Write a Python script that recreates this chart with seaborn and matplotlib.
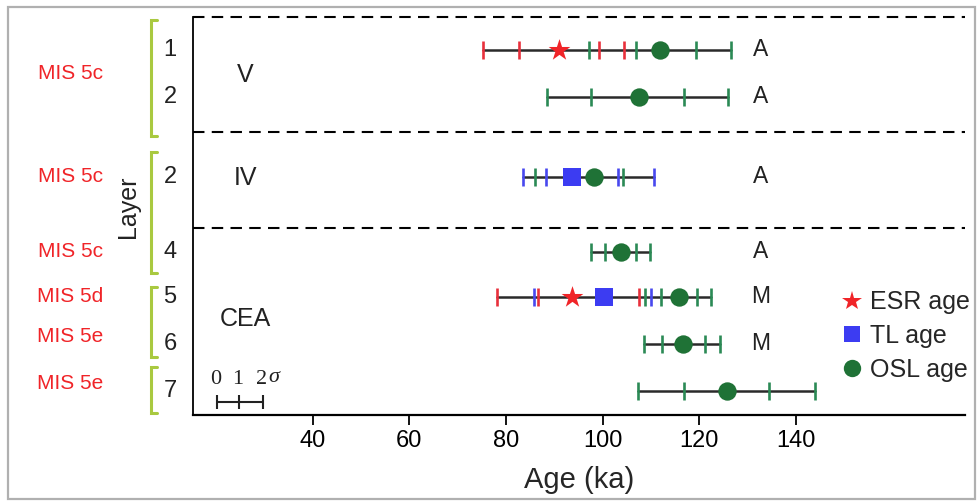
import numpy as np
import pandas as pd
import matplotlib.pyplot as plt
import seaborn as sns
from matplotlib.lines import Line2D
from matplotlib.patches import Rectangle
import matplotlib.transforms as mtransforms

# =============================================================================
# DATA (ages in ka)
# =============================================================================
layer_labels = ['1', '2', '2', '4', '5', '6', '7']
mis_labels = ['MIS 5c', 'MIS 5c', 'MIS 5c', 'MIS 5d', 'MIS 5e', 'MIS 5e']
lab_labels = ['A', 'A', 'A', 'A', 'M', 'M', '']
zone_labels = ['V', 'IV', 'CEA']

# each measurement: row index, central age, tick positions (1 and 2 sigma)
esr_row = [0, 4]
esr_age = [90.9, 93.7]
esr_ticks = [[75.3, 82.6, 99.3, 104.5], [78.1, 86.6, 107.6]]

tl_row = [2, 4]
tl_age = [93.7, 100.3]
tl_ticks = [[83.5, 88.2, 103.1, 110.7], [85.7, 110.0]]

osl_row = [0, 1, 2, 3, 4, 5, 6]
osl_age = [111.8, 107.6, 98.3, 103.7, 115.7, 116.7, 125.8]
osl_ticks = [[97.2, 106.8, 119.3, 126.5], [88.4, 97.6, 116.9, 126.0],
             [86.0, 104.3], [97.5, 100.5, 107.0, 109.8],
             [108.8, 112.0, 119.6, 122.4], [108.6, 112.2, 121.2, 124.2],
             [107.4, 116.9, 134.4, 143.9]]

sigma_scale = [20.1, 24.8, 29.7]   # 0, 1, 2 sigma
x_ticks = [40, 60, 80, 100, 120, 140]

# =============================================================================
# LAYOUT
# =============================================================================
row_y = [0, 1, 2.7, 4.3, 5.25, 6.25, 7.25]
sep_y = [-0.7, 1.75, 3.8]
mis_y = [0.5, 2.7, 4.3, 5.25, 6.1, 7.1]
brackets = [(-0.64, 1.83), (2.17, 4.74), (5.05, 6.54), (6.75, 7.73)]
zone_pos = [(26, 0.53), (26, 2.72), (26, 5.73)]

RED = '#f02428'
BLUE = '#3c3cf2'
GREEN = '#1f7236'
GREEN_TICK = '#2b8a55'
RED_TICK = '#e8303c'
BLUE_TICK = '#4848ee'
LIME = '#a9c940'

sns.set_theme(style='white')
plt.rcParams['font.family'] = ['Liberation Sans', 'DejaVu Sans']

fig = plt.figure(figsize=(9.79, 5.04), dpi=100)
ax = fig.add_axes([193 / 979, 1 - 415 / 504, (965 - 193) / 979, (415 - 17) / 504])

# full black lines per row
all_ticks = {}
for rows, ticks in [(esr_row, esr_ticks), (tl_row, tl_ticks), (osl_row, osl_ticks)]:
    for r, t in zip(rows, ticks):
        all_ticks.setdefault(r, []).extend(t)
for r, t in all_ticks.items():
    ax.plot([min(t), max(t)], [row_y[r], row_y[r]], color='#2a2a2a', lw=1.8, zorder=2)

# sigma ticks
for rows, ticks, c in [(esr_row, esr_ticks, RED_TICK), (tl_row, tl_ticks, BLUE_TICK),
                       (osl_row, osl_ticks, GREEN_TICK)]:
    for r, t in zip(rows, ticks):
        ax.plot(t, [row_y[r]] * len(t), ls='none', marker='|', ms=12.5, mew=1.9,
                color=c, zorder=3)

# central ages
df_esr = pd.DataFrame({'age': esr_age, 'y': [row_y[r] for r in esr_row]})
df_tl = pd.DataFrame({'age': tl_age, 'y': [row_y[r] for r in tl_row]})
df_osl = pd.DataFrame({'age': osl_age, 'y': [row_y[r] for r in osl_row]})
sns.scatterplot(data=df_esr, x='age', y='y', marker='*', s=270, color=RED,
                edgecolor=RED, linewidth=0, ax=ax, zorder=5)
sns.scatterplot(data=df_tl, x='age', y='y', marker='s', s=150, color=BLUE,
                edgecolor=BLUE, linewidth=0, ax=ax, zorder=4)
sns.scatterplot(data=df_osl, x='age', y='y', marker='o', s=175, color=GREEN,
                edgecolor=GREEN, linewidth=0, ax=ax, zorder=5)

# dashed separators
for y in sep_y:
    ax.axhline(y, color='black', lw=1.5, ls=(0, (5.5, 3.5)), clip_on=False, zorder=1)

ax.set_xlim(15.2, 175)
ax.set_ylim(7.77, -0.7)
ax.set_xticks(x_ticks)
ax.set_xticklabels([str(v) for v in x_ticks], fontsize=17)
ax.set_yticks([])
ax.set_xlabel('Age (ka)', fontsize=21, labelpad=10)
ax.set_ylabel('')
for s in ['top', 'right']:
    ax.spines[s].set_visible(False)
ax.spines['left'].set_linewidth(1.3)
ax.spines['left'].set_color('black')
ax.spines['bottom'].set_linewidth(1.6)
ax.spines['bottom'].set_color('black')
ax.tick_params(axis='x', direction='out', length=7, width=1.3, pad=4, colors='black',
               bottom=True)

# zone labels and lab labels
for name, (x, y) in zip(zone_labels, zone_pos):
    ax.text(x, y, name, fontsize=18, ha='center', va='center', color='#222222')
for lab, y in zip(lab_labels, row_y):
    if lab:
        ax.text(132.6, y, lab, fontsize=16.5, ha='center', va='center', color='#222222')

# left margin: layer numbers, brackets, MIS labels
trans = mtransforms.blended_transform_factory(ax.transAxes, ax.transData)
for lab, y in zip(layer_labels, row_y):
    ax.text(-0.0298, y, lab, fontsize=17, ha='center', va='center', transform=trans,
            color='#222222')
for y0, y1 in brackets:
    ax.plot([-0.0466, -0.0548, -0.0548, -0.0466], [y0, y0, y1, y1], color=LIME, lw=2.2,
            transform=trans, clip_on=False, solid_joinstyle='miter')
for lab, y in zip(mis_labels, mis_y):
    ax.text(-0.159, y, lab, fontsize=15, ha='center', va='center', transform=trans,
            color=RED)
ax.text(-0.084, 3.33, 'Layer', fontsize=18, rotation=90, ha='center', va='center',
        transform=trans, color='#222222')

# sigma scale bar
ax.plot([sigma_scale[0], sigma_scale[-1]], [7.49, 7.49], color='#222222', lw=1.5)
ax.plot(sigma_scale, [7.49] * 3, ls='none', marker='|', ms=10, mew=1.5, color='#222222')
for v, lab in zip(sigma_scale, ['0', '1', '2']):
    ax.text(v - 0.3, 7.02, lab, fontsize=16, ha='center', va='center',
            family=['Liberation Serif', 'DejaVu Serif'], color='#222222')
ax.text(32.0, 6.98, 'σ', fontsize=16, ha='center', va='center', style='italic',
        family=['Liberation Serif', 'DejaVu Serif'], color='#222222')

# legend
handles = [Line2D([], [], ls='none', marker='*', ms=15, color=RED, mew=0, label='ESR age'),
           Line2D([], [], ls='none', marker='s', ms=11, color=BLUE, mew=0, label='TL age'),
           Line2D([], [], ls='none', marker='o', ms=12.5, color=GREEN, mew=0, label='OSL age')]
ax.legend(handles=handles, loc='center left', bbox_to_anchor=(830 / 979, 1 - 336 / 504),
          bbox_transform=fig.transFigure, frameon=False, fontsize=18, handlelength=0.8,
          handletextpad=0.3, labelspacing=0.38, borderpad=0)

# outer border
fig.patches.append(Rectangle((8 / 979, 5 / 504), (975 - 8) / 979, (497 - 5) / 504,
                             transform=fig.transFigure, fill=False, edgecolor='#b0b0b0',
                             lw=1.6))

fig.savefig('out.png', dpi=100)
